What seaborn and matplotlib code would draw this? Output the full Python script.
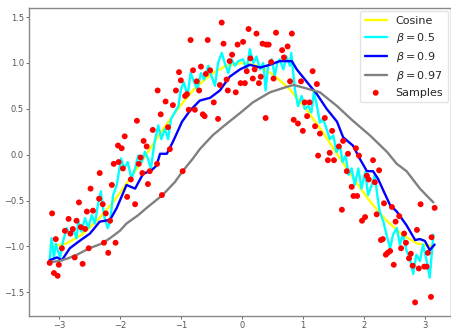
import numpy as np
import pandas as pd
import matplotlib
matplotlib.use("Agg")
import matplotlib.pyplot as plt
import seaborn as sns

# ---- data ----
cos_x = [-3.14, -2.88, -2.62, -2.36, -2.09, -1.83, -1.57, -1.31, -1.05, -0.79, -0.52, -0.26, 0.0,
         0.26, 0.52, 0.79, 1.05, 1.31, 1.57, 1.83, 2.09, 2.36, 2.62, 2.88, 3.14]
cos_y = [-1.0, -0.97, -0.87, -0.71, -0.5, -0.26, 0.0, 0.26, 0.5, 0.71, 0.87, 0.97, 1.0,
         0.97, 0.87, 0.71, 0.5, 0.26, 0.0, -0.26, -0.5, -0.71, -0.87, -0.97, -1.0]

b05_x = [-3.15, -3.12, -3.08, -3.05, -2.98, -2.93, -2.87, -2.82, -2.77, -2.71, -2.68, -2.63, -2.57,
         -2.52, -2.46, -2.41, -2.36, -2.31, -2.26, -2.20, -2.16, -2.11, -2.05, -1.98, -1.93, -1.87,
         -1.81, -1.75, -1.70, -1.64, -1.59, -1.54, -1.49, -1.43, -1.37, -1.32, -1.26, -1.21, -1.16,
         -1.10, -1.04, -1.00, -0.95, -0.89, -0.84, -0.78, -0.73, -0.67, -0.62, -0.55, -0.50, -0.44,
         -0.39, -0.33, -0.28, -0.22, -0.17, -0.11, -0.06, 0.02, 0.08, 0.13, 0.19, 0.24, 0.30, 0.35,
         0.39, 0.43, 0.49, 0.54, 0.58, 0.62, 0.68, 0.73, 0.79, 0.81, 0.87, 0.92, 0.98, 1.03, 1.09,
         1.14, 1.18, 1.22, 1.28, 1.33, 1.39, 1.44, 1.50, 1.55, 1.61, 1.65, 1.70, 1.75, 1.80, 1.85,
         1.91, 1.96, 2.02, 2.07, 2.13, 2.18, 2.22, 2.26, 2.32, 2.37, 2.43, 2.48, 2.54, 2.59, 2.64,
         2.70, 2.75, 2.81, 2.86, 2.92, 2.97, 3.03, 3.08, 3.14]
b05_y = [-1.16, -0.91, -1.12, -0.97, -1.12, -0.94, -0.80, -0.87, -0.80, -0.91, -0.73, -0.84, -0.69,
         -0.80, -0.66, -0.75, -0.55, -0.40, -0.66, -0.80, -0.73, -0.44, -0.33, -0.04, -0.15, -0.08,
         -0.26, -0.15, -0.01, -0.08, 0.03, -0.04, -0.15, 0.14, 0.32, 0.17, 0.28, 0.17, 0.39,
         0.46, 0.53, 0.71, 0.79, 0.64, 0.89, 0.79, 0.71, 0.89, 0.82, 0.97, 0.86, 0.75,
         1.00, 1.11, 1.00, 0.89, 1.04, 0.97, 1.02, 1.04, 0.93, 1.15, 1.00, 1.07, 0.93, 1.00,
         0.70, 0.97, 1.04, 0.86, 1.00, 1.04, 0.93, 1.07, 0.97, 1.11, 0.71, 0.53, 0.64, 0.50, 0.53,
         0.46, 0.68, 0.57, 0.35, 0.39, 0.28, 0.17, 0.21, 0.03, 0.10, -0.08, -0.01, -0.22, -0.15, -0.33,
         -0.15, -0.37, -0.19, -0.44, -0.33, -0.22, -0.44, -0.62, -0.73, -0.87, -1.02, -0.87, -0.80, -0.98, -0.87,
         -1.05, -1.12, -1.30, -1.09, -1.16, -0.98, -1.16, -1.34, -0.87]

b09_x = [-3.15, -3.03, -2.95, -2.82, -2.66, -2.49, -2.33, -2.16, -2.05, -1.89, -1.75, -1.62, -1.48,
         -1.40, -1.34, -1.23, -1.13, -0.98, -0.85, -0.69, -0.52, -0.36, -0.20, -0.03, 0.13, 0.30,
         0.46, 0.62, 0.82, 0.90, 1.07, 1.23, 1.39, 1.56, 1.66, 1.82, 1.93, 2.05, 2.15, 2.23, 2.34,
         2.43, 2.54, 2.70, 2.84, 2.92, 3.00, 3.08, 3.16]
b09_y = [-1.15, -1.12, -1.15, -1.02, -0.94, -0.86, -0.73, -0.71, -0.58, -0.33, -0.37, -0.21, -0.17,
         -0.12, 0.01, 0.01, 0.14, 0.36, 0.48, 0.59, 0.62, 0.70, 0.85, 0.93, 0.98, 0.95,
         0.98, 1.02, 1.02, 0.93, 0.79, 0.66, 0.50, 0.36, 0.19, 0.10, -0.04, -0.18, -0.18, -0.26, -0.42,
         -0.55, -0.62, -0.77, -0.93, -0.92, -0.94, -1.04, -0.98]

b097_x = [-3.14, -3.0, -2.85, -2.7, -2.5, -2.3, -2.16, -2.0, -1.89, -1.7, -1.56, -1.3, -1.1, -0.97,
          -0.8, -0.69, -0.48, -0.3, -0.15, 0.0, 0.18, 0.46, 0.74, 0.85, 1.07, 1.28, 1.56, 1.82, 2.10,
          2.38, 2.54, 2.70, 2.92, 3.05, 3.14]
b097_y = [-1.17, -1.16, -1.13, -1.09, -1.02, -0.97, -0.91, -0.83, -0.75, -0.66, -0.58, -0.44, -0.30,
          -0.18, -0.04, 0.06, 0.21, 0.31, 0.39, 0.47, 0.57, 0.68, 0.74, 0.76, 0.72, 0.68, 0.53, 0.37,
          0.21, 0.03, -0.10, -0.18, -0.37, -0.46, -0.52]

sample_x = [-3.15, -3.11, -3.08, -3.05, -3.02, -3.00, -2.95, -2.90, -2.84, -2.81, -2.77, -2.74, -2.71,
            -2.67, -2.64, -2.61, -2.57, -2.54, -2.51, -2.48, -2.44, -2.34, -2.33, -2.28, -2.26, -2.23,
            -2.19, -2.16, -2.13, -2.10, -2.07, -2.03, -2.02, -1.97, -1.95, -1.92, -1.88, -1.82, -1.75,
            -1.72, -1.69, -1.66, -1.63, -1.61, -1.56, -1.54, -1.51, -1.46, -1.39, -1.38, -1.33, -1.31,
            -1.25, -1.21, -1.18, -1.13, -1.08, -1.03, -1.00, -0.97, -0.93, -0.90, -0.87, -0.84, -0.80,
            -0.77, -0.74, -0.70, -0.67, -0.64, -0.61, -0.59, -0.56, -0.52, -0.46, -0.39, -0.36, -0.33,
            -0.30, -0.25, -0.23, -0.20, -0.16, -0.10, -0.07, -0.02, 0.02, 0.05, 0.08, 0.11, 0.14, 0.18,
            0.21, 0.24, 0.28, 0.31, 0.34, 0.39, 0.40, 0.44, 0.48, 0.52, 0.56, 0.66, 0.69, 0.75, 0.79,
            0.82, 0.85, 0.92, 0.97, 1.00, 1.03, 1.07, 1.11, 1.16, 1.20, 1.23, 1.25, 1.28, 1.36, 1.41,
            1.44, 1.48, 1.51, 1.59, 1.64, 1.66, 1.72, 1.74, 1.80, 1.83, 1.87, 1.89, 1.92, 1.97, 2.02,
            2.05, 2.08, 2.15, 2.18, 2.21, 2.25, 2.28, 2.31, 2.33, 2.36, 2.39, 2.43, 2.46, 2.49, 2.52,
            2.58, 2.61, 2.66, 2.69, 2.74, 2.77, 2.80, 2.84, 2.87, 2.90, 2.93, 2.99, 3.03, 3.05, 3.10,
            3.11, 3.16]
sample_y = [-1.18, -0.64, -1.29, -0.92, -1.32, -1.20, -1.02, -0.83, -0.70, -0.86, -0.81, -1.12, -0.72,
            -0.52, -0.79, -1.19, -0.81, -0.62, -1.02, -0.37, -0.61, -0.48, -0.20, -0.54, -0.96, -0.64,
            -1.07, -0.72, -0.33, -0.10, -0.96, 0.10, -0.08, 0.07, -0.15, 0.20, -0.46, -0.27, -0.54,
            0.37, -0.10, -0.03, -0.20, 0.15, 0.09, -0.32, -0.18, 0.27, -0.10, 0.70, 0.44, -0.44,
            0.58, 0.30, 0.06, 0.54, 0.70, 0.90, 0.81, -0.18, 0.64, 0.66, 0.49, 1.25, 0.92,
            0.49, 0.80, 0.70, 0.96, 0.44, 0.42, 0.88, 1.25, 0.92, 0.57, 0.39, 0.76, 1.44,
            1.21, 0.82, 0.70, 1.02, 1.09, 0.68, 1.20, 0.78, 1.23, 0.78, 0.91, 1.37, 1.05, 0.83,
            0.93, 1.32, 0.78, 0.85, 1.21, 0.40, 1.20, 1.20, 1.01, 0.83, 1.33, 1.14, 1.06, 1.18, 0.80,
            1.32, 0.38, 0.34, 0.80, 0.26, 0.57, 0.42, 0.57, 0.91, 0.31, 0.77, -0.01, 0.23, 0.40, -0.06,
            0.02, 0.26, -0.06, 0.09, -0.60, 0.15, -0.18, 0.01, -0.35, -0.45, 0.07, -0.45, -0.01, -0.72, -0.68,
            -0.23, -0.27, -0.06, -0.30, -0.65, -0.17, -0.93, -0.92, -0.53, -1.09, -1.07, -1.05, -0.57, -1.20, -0.73,
            -0.67, -1.02, -0.86, -0.96, -1.13, -1.08, -1.21, -1.61, -0.82, -1.24, -0.54, -1.22, -1.22, -1.07, -1.55,
            -0.90, -0.58]

# ---- plotting ----
sns.set_theme(style="white")
plt.rcParams['font.family'] = ['DejaVu Sans']

fig = plt.figure(figsize=(4.52, 3.30), dpi=100)
ax = fig.add_axes([0.064, 0.042, 0.934, 0.934])

lw = 1.7
sns.lineplot(x=cos_x, y=cos_y, ax=ax, color='yellow', lw=lw, label='Cosine', sort=False, estimator=None)
sns.lineplot(x=b05_x, y=b05_y, ax=ax, color='cyan', lw=lw, label=r'$\beta = 0.5$', sort=False, estimator=None)
sns.lineplot(x=b09_x, y=b09_y, ax=ax, color='blue', lw=lw, label=r'$\beta = 0.9$', sort=False, estimator=None)
sns.lineplot(x=b097_x, y=b097_y, ax=ax, color='gray', lw=lw, label=r'$\beta = 0.97$', sort=False, estimator=None)
sns.scatterplot(x=sample_x, y=sample_y, ax=ax, color='red', s=18, edgecolor='none', label='Samples', zorder=5)

ax.set_xlim(-3.49, 3.43)
ax.set_ylim(-1.76, 1.60)
ax.set_xticks([-3, -2, -1, 0, 1, 2, 3])
ax.set_yticks([-1.5, -1.0, -0.5, 0.0, 0.5, 1.0, 1.5])
ax.tick_params(axis='both', labelsize=6, colors='#555555', length=2.5, width=0.6, pad=1.2,
               bottom=True, left=True)
for side in ['left', 'bottom', 'top', 'right']:
    ax.spines[side].set_color('#888888')
    ax.spines[side].set_linewidth(1.0)

leg = ax.legend(loc='upper right', fontsize=8, frameon=True, handlelength=2.0,
                borderaxespad=0.3, labelspacing=0.45, handletextpad=0.8, borderpad=0.4)
leg.get_frame().set_edgecolor('#dddddd')

fig.savefig('out.png', dpi=100)
